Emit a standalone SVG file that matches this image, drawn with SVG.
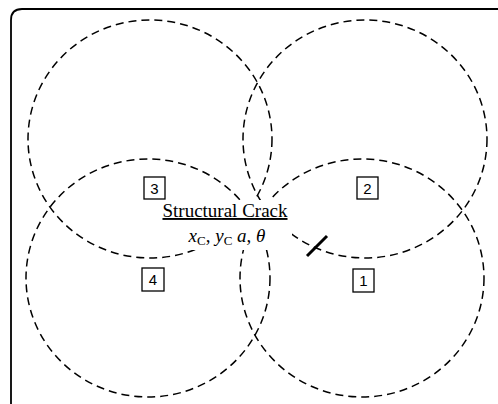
<svg xmlns="http://www.w3.org/2000/svg" width="498" height="404" viewBox="0 0 498 404">
<style>
.c{fill:none;stroke:#000;stroke-width:1.5;stroke-dasharray:8 5}
.b{fill:#fff;stroke:#000;stroke-width:1.3}
.n{font-family:"Liberation Sans",Arial,sans-serif;font-size:15px;text-anchor:middle}
.t{font-family:"Liberation Serif","Times New Roman",serif;font-size:19px}
</style>
<rect width="498" height="404" fill="#fff"/>
<path d="M11,404 V20 Q11,9 22,9 H498" fill="none" stroke="#000" stroke-width="1.8"/>
<g id="connectors">
<ellipse id="circle3" class="c" cx="150" cy="139" rx="122" ry="119"/>
<ellipse id="circle2" class="c" cx="365" cy="139" rx="122" ry="119"/>
<ellipse id="circle4" class="c" cx="148" cy="278" rx="122" ry="119"/>
<ellipse id="circle1" class="c" cx="362" cy="278" rx="122" ry="119"/>
</g>
<g id="node3"><rect class="b" x="144" y="177" width="21" height="22"/><text class="n" x="154.5" y="193.5">3</text></g>
<g id="node2"><rect class="b" x="357" y="177" width="21" height="22"/><text class="n" x="367.5" y="193.5">2</text></g>
<g id="node4"><rect class="b" x="142" y="268" width="22" height="23"/><text class="n" x="153" y="285">4</text></g>
<g id="node1"><rect class="b" x="353" y="269" width="21" height="23"/><text class="n" x="363.5" y="286">1</text></g>
<g id="crack">
<rect x="181" y="200" width="111" height="50" fill="#fff"/>
<text class="t" x="225" y="217" text-anchor="middle" text-decoration="underline">Structural Crack</text>
<text class="t" x="227" y="242" text-anchor="middle"><tspan font-style="italic">x</tspan><tspan font-size="13" dy="3">C</tspan><tspan dy="-3">, </tspan><tspan font-style="italic">y</tspan><tspan font-size="13" dy="3">C</tspan><tspan dy="-3"> </tspan><tspan font-style="italic">a</tspan>, <tspan font-style="italic">θ</tspan></text>
<line x1="307" y1="256" x2="327" y2="236" stroke="#000" stroke-width="3"/>
</g>
</svg>
